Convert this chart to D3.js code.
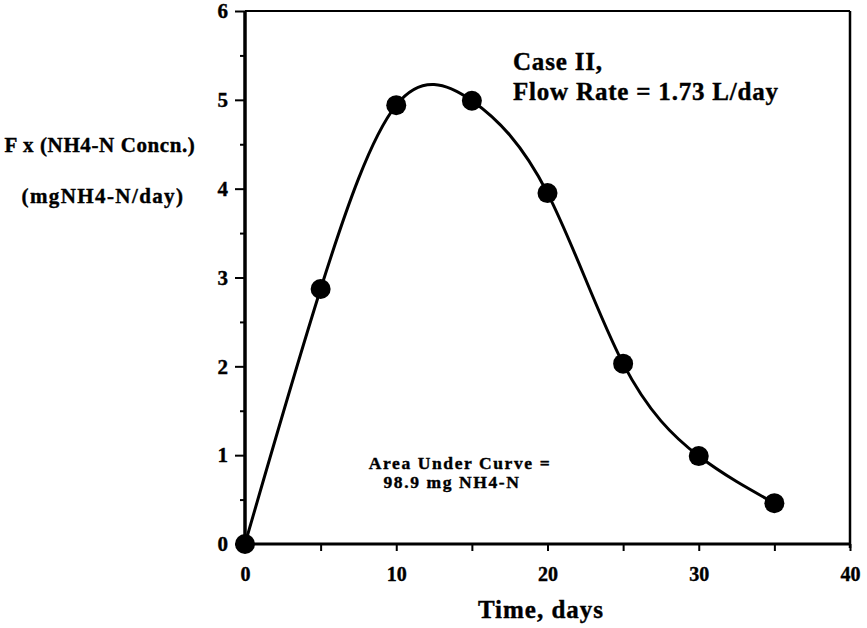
<!DOCTYPE html>
<html lang="en">
<head>
    <meta charset="utf-8">
    <title>Case II ammonia flux</title>
    <script type="text/javascript" src="https://d3js.org/d3.v7.min.js"></script>
    <style type="text/css">
        body { margin: 0; background: #fff; }
        text { font-family: "Liberation Serif", "Times New Roman", serif; font-weight: bold; fill: #000;
               stroke: #000; stroke-width: 0.4px; }
    </style>
</head>
<body>
<script type="text/javascript">

    // values
    var days = [0, 5, 10, 15, 20, 25, 30, 35];
    var flux = [0, 2.87, 4.94, 4.99, 3.95, 2.03, 0.99, 0.46];
    var xTicks = [0, 10, 20, 30, 40];
    var xMinor = [5, 15, 25, 35];
    var yTicks = [0, 1, 2, 3, 4, 5, 6];
    var yMinor = [0.5, 1.5, 2.5, 3.5, 4.5, 5.5];

    var width = 867, height = 628;

    var x = d3.scaleLinear().domain([0, 40]).range([245, 850]);
    var y = d3.scaleLinear().domain([0, 6]).range([544, 11]);

    var svg = d3.select("body")
        .append("svg")
        .attr("width", width)
        .attr("height", height);

    // x axis ticks + labels
    var xAxis = svg.append("g")
        .attr("transform", "translate(0," + y(0) + ")")
        .call(d3.axisBottom(x).tickValues(xTicks.concat(xMinor)).tickSize(7).tickPadding(16)
            .tickFormat(function(d) { return xTicks.indexOf(d) >= 0 ? d : ""; }));
    xAxis.select(".domain").remove();
    xAxis.selectAll("line").attr("stroke-width", 2);
    xAxis.selectAll("text").attr("font-size", 20).attr("font-family", null);

    // y axis: integers longer, halves shorter
    var yAxis = svg.append("g")
        .attr("transform", "translate(" + x(0) + ",0)")
        .call(d3.axisLeft(y).tickValues(yTicks).tickSize(10).tickPadding(7).tickFormat(d3.format("d")));
    yAxis.select(".domain").remove();
    yAxis.selectAll("line").attr("stroke-width", 2);
    yAxis.selectAll("text").attr("font-size", 21).attr("font-family", null);

    var yAxisMinor = svg.append("g")
        .attr("transform", "translate(" + x(0) + ",0)")
        .call(d3.axisLeft(y).tickValues(yMinor).tickSize(5).tickFormat(""));
    yAxisMinor.select(".domain").remove();
    yAxisMinor.selectAll("line").attr("stroke-width", 2);

    // frame
    svg.append("line").attr("x1", x(0)).attr("x2", x(40)).attr("y1", y(0)).attr("y2", y(0))
        .attr("stroke", "#000").attr("stroke-width", 3);
    svg.append("line").attr("x1", x(0)).attr("x2", x(0)).attr("y1", y(0)).attr("y2", y(6))
        .attr("stroke", "#000").attr("stroke-width", 3.5);
    svg.append("line").attr("x1", x(0)).attr("x2", x(40)).attr("y1", y(6)).attr("y2", y(6))
        .attr("stroke", "#000").attr("stroke-width", 2);
    svg.append("line").attr("x1", x(40)).attr("x2", x(40)).attr("y1", y(6)).attr("y2", y(0) + 4)
        .attr("stroke", "#000").attr("stroke-width", 2.5);

    // smooth curve through the points
    var pts = days.map(function(d, i) { return [d, flux[i]]; });
    var line = d3.line()
        .x(function(d) { return x(d[0]); })
        .y(function(d) { return y(d[1]); })
        .curve(d3.curveNatural);

    svg.append("path")
        .datum(pts)
        .attr("d", line)
        .attr("fill", "none")
        .attr("stroke", "#000")
        .attr("stroke-width", 3);

    svg.selectAll(".dot")
        .data(pts)
        .enter()
        .append("circle")
        .attr("class", "dot")
        .attr("cx", function(d) { return x(d[0]); })
        .attr("cy", function(d) { return y(d[1]); })
        .attr("r", 10)
        .attr("fill", "#000");

    // annotations
    svg.append("text").attr("x", 513).attr("y", 70).attr("font-size", 25)
        .attr("letter-spacing", 0.8).text("Case II,");
    svg.append("text").attr("x", 513).attr("y", 100).attr("font-size", 25)
        .attr("letter-spacing", 0.8).text("Flow Rate = 1.73 L/day");

    svg.append("text").attr("x", 460).attr("y", 469).attr("font-size", 17.5)
        .attr("letter-spacing", 1.6).attr("text-anchor", "middle").text("Area Under Curve =");
    svg.append("text").attr("x", 452).attr("y", 488).attr("font-size", 17.5)
        .attr("letter-spacing", 1.6).attr("text-anchor", "middle").text("98.9 mg NH4-N");

    // axis titles
    svg.append("text").attr("x", 100).attr("y", 152).attr("font-size", 21)
        .attr("letter-spacing", 0.6).attr("text-anchor", "middle").text("F x (NH4-N Concn.)");
    svg.append("text").attr("x", 103).attr("y", 203).attr("font-size", 21)
        .attr("letter-spacing", 1.4).attr("text-anchor", "middle").text("(mgNH4-N/day)");

    svg.append("text").attr("x", 541).attr("y", 618).attr("font-size", 25)
        .attr("letter-spacing", 1).attr("text-anchor", "middle").text("Time, days");

</script>
</body>
</html>
